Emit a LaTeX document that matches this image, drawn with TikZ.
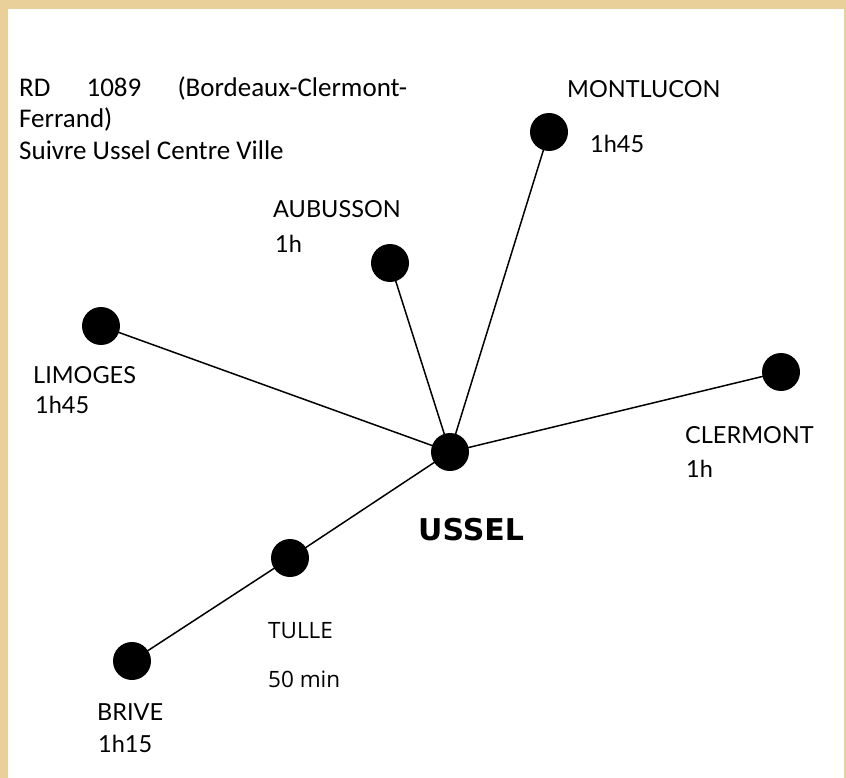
\documentclass[tikz,border=0pt]{standalone}
\usepackage{fontspec}
\setmainfont{Lato}
\newfontfamily\topfont{Carlito}
\newfontfamily\segfont{Open Sans}
\newfontfamily\boldfont{DejaVu Sans}
\definecolor{parch}{RGB}{233,208,154}
\tikzset{
  dot/.style={circle,fill=black,minimum size=38pt,inner sep=0pt},
  lbl/.style={anchor=base west,inner sep=0pt,font=\fontsize{23.5}{27}\selectfont},
  road/.style={line width=1.5pt,black},
  toptxt/.style={anchor=base west,inner sep=0pt,font=\topfont\fontsize{27}{31}\selectfont}
}
\begin{document}
\begin{tikzpicture}[x=1pt,y=-1pt]
\useasboundingbox (0,0) rectangle (846,778);
\fill[parch] (0,0) rectangle (846,778);
\fill[white] (8,9) rectangle (844,778);
% nodes
\node[dot] (ussel) at (450,452) {};
\node[dot] (mont) at (549,132) {};
\node[dot] (aub) at (390,263) {};
\node[dot] (lim) at (101,326) {};
\node[dot] (cler) at (781,372) {};
\node[dot] (tulle) at (290,558) {};
\node[dot] (brive) at (132,661) {};
% roads
\draw[road] (ussel.center) -- (mont.center);
\draw[road] (ussel.center) -- (aub.center);
\draw[road] (ussel.center) -- (lim.center);
\draw[road] (ussel.center) -- (cler.center);
\draw[road] (ussel.center) -- (tulle.center);
\draw[road] (tulle.center) -- (brive.center);
% top text
\node[toptxt] (l1) at (19,97) {\makebox[388pt][s]{RD\hfill 1089\hfill (Bordeaux-Clermont-}};
\node[toptxt] (l2) at (19,128) {Ferrand)};
\node[toptxt] (l3) at (19,160) {Suivre Ussel Centre Ville};
% labels
\node[lbl] (tmont) at (567,98) {MONTLUCON};
\node[lbl] (hmont) at (590,153) {1h45};
\node[lbl] (taub) at (273,218) {AUBUSSON};
\node[lbl] (haub) at (275,252) {1h};
\node[lbl] (tlim) at (33,383) {LIMOGES};
\node[lbl] (hlim) at (35,413) {1h45};
\node[lbl] (tcler) at (685,443) {CLERMONT};
\node[lbl] (hcler) at (686,477) {1h};
\node[anchor=base west,inner sep=0pt,font=\boldfont\bfseries\fontsize{30}{34}\selectfont] (tus) at (418,540) {USSEL};
\node[lbl,font=\segfont\fontsize{22.5}{26}\selectfont] (ttul) at (268,638) {TULLE};
\node[lbl,font=\segfont\fontsize{22.5}{26}\selectfont] (htul) at (268,687) {50 min};
\node[lbl] (tbri) at (97,720) {BRIVE};
\node[lbl] (hbri) at (98,752) {1h15};
\end{tikzpicture}
\end{document}
